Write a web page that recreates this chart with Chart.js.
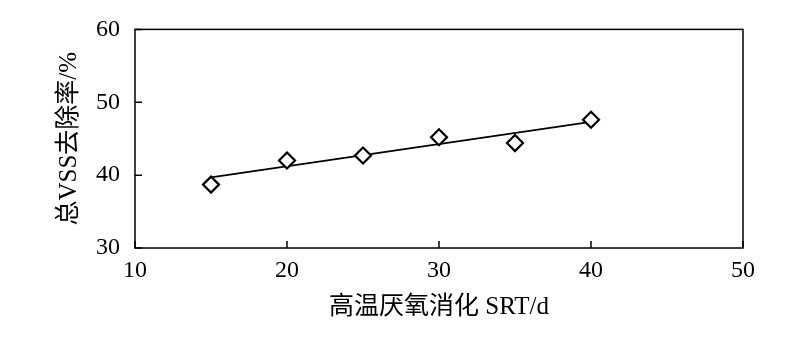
<!DOCTYPE html>
<html>
<head>
<meta charset="utf-8">
<script src="https://cdn.jsdelivr.net/npm/chart.js@4"></script>
<style>
  body { margin: 0; background: #fff; }
  #wrap { width: 800px; height: 339px; }
</style>
</head>
<body>
<div id="wrap"><canvas id="myChart"></canvas></div>
<script>
// SRT (d) and total VSS removal (%)
const srtDays = [15, 20, 25, 30, 35, 40];
const vssRemoval = [38.7, 42.0, 42.7, 45.2, 44.4, 47.6];
// trend line end points
const trendX = [15, 40];
const trendY = [39.7, 47.3];
const xTicks = [10, 20, 30, 40, 50];
const yTicks = [30, 40, 50, 60];

const serif = "'Liberation Serif', 'Noto Sans CJK SC', serif";

// frame + inward ticks
const framePlugin = {
    id: 'frame',
    afterDraw(chart) {
        const { ctx, chartArea: a, scales } = chart;
        ctx.save();
        ctx.strokeStyle = '#000';
        ctx.lineWidth = 1.5;
        ctx.strokeRect(a.left, a.top, a.right - a.left, a.bottom - a.top);
        ctx.beginPath();
        xTicks.forEach(v => {
            const px = scales.x.getPixelForValue(v);
            ctx.moveTo(px, a.bottom);
            ctx.lineTo(px, a.bottom - 7);
        });
        yTicks.forEach(v => {
            const py = scales.y.getPixelForValue(v);
            ctx.moveTo(a.left, py);
            ctx.lineTo(a.left + 7, py);
        });
        ctx.stroke();
        ctx.restore();
    }
};

const ctx = document.getElementById('myChart').getContext('2d');

new Chart(ctx, {
    type: 'scatter',
    data: {
        datasets: [
            {
                label: '拟合',
                data: trendX.map((x, i) => ({ x: x, y: trendY[i] })),
                showLine: true,
                borderColor: '#000',
                borderWidth: 1.8,
                pointRadius: 0,
                order: 2
            },
            {
                label: '总VSS去除率',
                data: srtDays.map((x, i) => ({ x: x, y: vssRemoval[i] })),
                pointStyle: 'rectRot',
                pointRadius: 8,
                pointBorderWidth: 2.2,
                pointBorderColor: '#000',
                pointBackgroundColor: '#fff',
                order: 1
            }
        ]
    },
    options: {
        responsive: true,
        maintainAspectRatio: false,
        animation: false,
        layout: {
            padding: { top: 28, right: 57, left: 50, bottom: 13 }
        },
        plugins: {
            legend: { display: false },
            tooltip: { enabled: false }
        },
        scales: {
            x: {
                type: 'linear',
                min: 10,
                max: 50,
                afterBuildTicks: s => { s.ticks = xTicks.map(v => ({ value: v })); },
                afterFit: s => { s.height = 78; },
                grid: { display: false, drawTicks: false },
                border: { display: false },
                ticks: {
                    padding: 8,
                    color: '#000',
                    font: { family: serif, size: 24 }
                },
                title: {
                    display: true,
                    text: '高温厌氧消化 SRT/d',
                    color: '#000',
                    font: { family: serif, size: 25 },
                    padding: { top: 6 }
                }
            },
            y: {
                min: 30,
                max: 60,
                afterBuildTicks: s => { s.ticks = yTicks.map(v => ({ value: v })); },
                afterFit: s => { s.width = 85; },
                grid: { display: false, drawTicks: false },
                border: { display: false },
                ticks: {
                    padding: 15,
                    color: '#000',
                    font: { family: serif, size: 24 }
                },
                title: {
                    display: true,
                    text: '总VSS去除率/%',
                    color: '#000',
                    font: { family: serif, size: 25 },
                    padding: { bottom: 4 }
                }
            }
        }
    },
    plugins: [framePlugin]
});
</script>
</body>
</html>
